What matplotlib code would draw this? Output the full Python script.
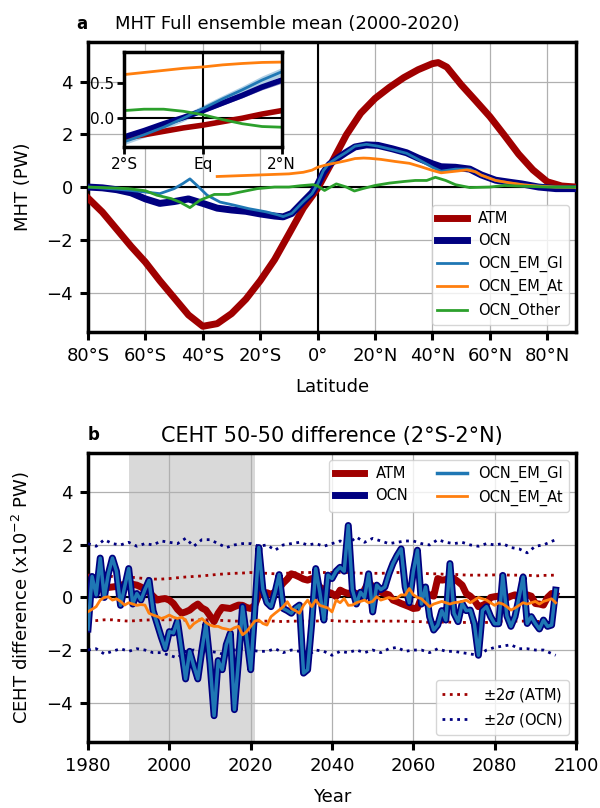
import numpy as np
import matplotlib
matplotlib.use("Agg")
import matplotlib.pyplot as plt

# ---------------- Panel a data (latitude, PW) ----------------
atm_lat = [-80, -75, -70, -65, -60, -55, -50, -45, -40, -35, -30, -25, -20, -15, -10, -5, 0, 5, 10, 15, 20, 25, 30, 35, 40, 42, 45, 50, 55, 60, 65, 70, 75, 80, 85, 90]
atm_mht = [-0.42, -0.95, -1.6, -2.25, -2.85, -3.55, -4.2, -4.85, -5.28, -5.18, -4.8, -4.25, -3.55, -2.75, -1.78, -0.8, -0.05, 0.95, 1.98, 2.8, 3.36, 3.78, 4.15, 4.45, 4.68, 4.72, 4.55, 3.88, 3.28, 2.67, 1.97, 1.25, 0.65, 0.2, 0.04, 0.0]

ocn_lat = [-80, -75, -70, -65, -60, -55, -50, -45, -40, -35, -30, -25, -20, -15, -12, -9, -5, -2, 0, 2, 4, 7, 10, 13, 17, 21, 26, 31, 35, 40, 43, 48, 53, 57, 62, 67, 71, 77, 83, 90]
ocn_mht = [0.0, -0.03, -0.1, -0.22, -0.45, -0.62, -0.55, -0.45, -0.62, -0.8, -0.87, -0.92, -1.02, -1.1, -1.13, -1.0, -0.55, -0.22, 0.1, 0.55, 0.85, 1.1, 1.32, 1.52, 1.6, 1.58, 1.45, 1.3, 1.1, 0.88, 0.77, 0.75, 0.68, 0.46, 0.26, 0.18, 0.12, 0.0, -0.06, -0.06]

gl_lat = [-80, -70, -65, -60, -55, -50, -47, -44.5, -42, -38.5, -34, -29, -24, -18, -14, -12, -9, -5, -2, 0, 2, 4, 7, 10, 13, 17, 21, 26, 31, 35, 40, 43, 48, 53, 57, 62, 67, 72, 77, 83, 90]
gl_mht = [0.0, -0.08, -0.13, -0.19, -0.25, -0.06, 0.13, 0.31, 0.06, -0.31, -0.57, -0.69, -0.82, -0.94, -1.05, -1.12, -1.0, -0.55, -0.25, 0.12, 0.62, 0.9, 1.12, 1.32, 1.55, 1.62, 1.55, 1.42, 1.28, 1.05, 0.75, 0.6, 0.68, 0.68, 0.45, 0.25, 0.15, 0.08, 0.04, 0.0, 0.0]

at_lat = [-35, -30, -25, -20, -15, -10, -5, -2, 0, 3, 7, 10, 13, 16, 18, 22, 27, 32, 36, 40, 43, 48, 52, 55, 57, 62, 67, 72, 77, 83, 90]
at_mht = [0.4, 0.42, 0.44, 0.46, 0.48, 0.5, 0.56, 0.64, 0.75, 0.84, 0.93, 1.0, 1.08, 1.1, 1.09, 1.05, 0.97, 0.9, 0.77, 0.63, 0.54, 0.6, 0.65, 0.58, 0.45, 0.25, 0.16, 0.08, 0.03, 0.0, -0.01]

oth_lat = [-80, -72, -66, -60, -56, -51, -48, -44.5, -41, -36, -31, -27, -21, -15, -10, -6, -1.6, 0, 2.4, 4.5, 6.5, 10, 12.8, 15.7, 20, 25, 30, 34, 38, 41, 44.6, 48, 53, 60, 65, 72, 80, 90]
oth_mht = [0.0, -0.03, -0.06, -0.14, -0.31, -0.44, -0.57, -0.78, -0.5, -0.28, -0.28, -0.19, -0.06, 0.0, 0.0, 0.05, 0.09, 0.04, -0.13, 0.0, 0.12, 0.0, -0.15, -0.06, 0.06, 0.15, 0.21, 0.25, 0.25, 0.37, 0.25, 0.09, -0.02, 0.0, 0.06, 0.03, 0.0, 0.0]

# inset (2S-2N)
ins_lat = [-2, -1.5, -1, -0.5, 0, 0.5, 1, 1.5, 2]
ins_atm = [-0.3, -0.25, -0.2, -0.15, -0.11, -0.06, -0.01, 0.05, 0.1]
ins_ocn = [-0.28, -0.19, -0.09, 0.0, 0.1, 0.21, 0.32, 0.44, 0.54]
ins_gl = [-0.35, -0.25, -0.14, -0.01, 0.13, 0.27, 0.4, 0.54, 0.66]
ins_at = [0.62, 0.65, 0.68, 0.71, 0.73, 0.76, 0.78, 0.795, 0.8]
ins_oth = [0.1, 0.12, 0.12, 0.09, 0.04, -0.03, -0.09, -0.13, -0.14]
ins_ocn_spread = [0.03, 0.03, 0.03, 0.03, 0.03, 0.03, 0.035, 0.04, 0.045]
ins_gl_spread = [0.04, 0.04, 0.04, 0.045, 0.05, 0.05, 0.055, 0.06, 0.06]

# ---------------- Panel b data (years, x10^-2 PW) ----------------
years = list(range(1980, 2096))
ceht_ocn = [-1.2, 0.8, 0.1, 1.5, 0.0, 0.9, 1.5, 1.0, -0.3, 0.4,
            1.1, -0.25, 0.15, -0.1, 0.3, 0.65, -0.5, -1.0, -1.5, -1.95,
            -1.3, -1.35, -0.9, -2.0, -3.1, -2.05, -2.6, -3.1, -2.0, -1.0,
            -2.5, -4.5, -2.4, -2.75, -1.8, -1.36, -4.27, -2.4, -0.35, -1.5,
            -2.75, -0.5, 1.9, 0.3, -0.2, -0.35, 0.2, 0.87, -0.42, -0.5,
            -0.6, -0.4, -0.29, -2.88, -2.75, -1.0, 1.1, 0.2, -0.86, 0.85,
            0.72, 1.0, 1.15, 1.0, 2.74, 0.3, -0.25, 0.2, 0.0, 0.9,
            -0.55, 0.47, 0.3, 0.4, 0.9, 1.3, 1.6, 1.85, 0.4, -0.2,
            1.0, 1.8, -0.25, 0.4, -0.73, -1.24, -1.05, -0.5, -0.86, 1.29,
            -0.6, -0.92, -0.23, -0.5, -0.48, -1.0, -2.2, -0.5, -0.35, -0.73,
            -1.0, -1.0, 0.84, -0.7, -1.1, -0.73, 0.0, 0.78, -0.99, -0.73,
            -0.99, -1.2, -0.86, -1.1, -1.05, 0.28]
ceht_gl = ceht_ocn
ceht_atm = [0.22, 0.34, 0.22, 0.35, 0.4, 0.38, 0.4, 0.42, 0.47, 0.5,
            0.53, 0.5, 0.47, 0.4, 0.3, 0.2, 0.05, -0.1, -0.06, -0.04,
            -0.1, -0.23, -0.45, -0.6, -0.55, -0.48, -0.35, -0.25, -0.4, -0.48,
            -0.7, -0.92, -0.6, -0.38, -0.4, -0.42, -0.35, -0.29, -0.3, -0.38,
            -0.42, -0.3, 0.1, 0.15, 0.18, 0.12, 0.21, 0.35, 0.55, 0.7,
            0.9, 0.85, 0.78, 0.7, 0.66, 0.72, 0.6, 0.4, 0.3, 0.21,
            0.15, 0.03, 0.28, 0.2, 0.15, 0.21, 0.15, 0.03, 0.3, 0.6,
            0.4, 0.34, 0.2, 0.15, 0.1, -0.1, -0.16, -0.23, -0.29, -0.35,
            -0.42, -0.4, 0.0, 0.15, 0.1, 0.05, 0.72, 0.66, 0.68, 0.78,
            0.72, 0.6, 0.47, 0.15, 0.05, -0.1, -0.35, -0.3, -0.23, 0.0,
            0.03, 0.05, 0.0, -0.02, 0.05, 0.1, -0.05, 0.05, 0.1, 0.05,
            -0.23, -0.25, -0.29, 0.0, 0.15, 0.09]
ceht_at = [-0.54, -0.45, -0.35, -0.1, 0.0, 0.03, -0.1, -0.05, -0.15, -0.29,
           -0.2, -0.25, -0.3, -0.27, -0.29, -0.6, -0.67, -0.72, -0.8, -0.75,
           -0.67, -0.75, -0.8, -0.75, -0.86, -1.17, -1.0, -0.9, -0.8, -0.95,
           -1.05, -1.1, -1.1, -1.17, -1.2, -1.24, -1.15, -1.1, -1.42, -1.3,
           -1.1, -0.9, -0.86, -0.99, -1.05, -0.73, -0.6, -0.48, -0.35, -0.16,
           -0.42, -0.5, -0.6, -0.3, -0.1, -0.35, -0.1, -0.3, -0.35, -0.4,
           -0.55, -0.1, -0.2, -0.04, -0.3, -0.29, -0.2, -0.15, -0.1, -0.2,
           -0.15, 0.03, -0.1, -0.05, 0.0, -0.05, -0.02, 0.1, 0.09, 0.34,
           0.1, 0.0, -0.05, -0.2, -0.35, -0.25, -0.2, -0.15, -0.2, -0.25,
           -0.2, -0.18, -0.15, -0.1, -0.2, -0.1, 0.0, -0.05, -0.1, -0.2,
           -0.3, -0.2, -0.25, -0.35, -0.48, -0.4, -0.3, -0.2, -0.25, -0.2,
           -0.15, -0.25, -0.15, -0.1, -0.05, -0.2]

sig_years = [1980, 1982, 1984, 1986, 1988, 1990, 1992, 1994, 1996, 1998, 2000, 2002, 2004, 2006, 2008, 2010, 2012, 2014, 2016, 2018, 2020, 2022, 2024, 2026, 2028, 2030, 2032, 2034, 2036, 2038, 2040, 2042, 2044, 2046, 2048, 2050, 2052, 2054, 2056, 2058, 2060, 2062, 2064, 2066, 2068, 2070, 2072, 2074, 2076, 2078, 2080, 2082, 2084, 2086, 2088, 2090, 2092, 2095]
atm_sig_hi = [0.85, 0.85, 0.8, 0.8, 0.78, 0.78, 0.75, 0.72, 0.7, 0.7, 0.72, 0.75, 0.78, 0.8, 0.82, 0.85, 0.88, 0.9, 0.92, 0.93, 0.95, 0.93, 0.92, 0.9, 0.92, 0.93, 0.95, 0.95, 0.95, 0.95, 0.95, 0.95, 0.95, 0.93, 0.92, 0.92, 0.92, 0.93, 0.95, 0.95, 0.95, 0.93, 0.9, 0.9, 0.88, 0.88, 0.86, 0.85, 0.85, 0.85, 0.86, 0.86, 0.85, 0.85, 0.85, 0.82, 0.84, 0.85]
atm_sig_lo = [-0.9, -0.88, -0.85, -0.85, -0.88, -0.9, -0.88, -0.86, -0.85, -0.85, -0.85, -0.85, -0.86, -0.86, -0.85, -0.85, -0.87, -0.88, -0.9, -0.9, -0.9, -0.9, -0.9, -0.9, -0.92, -0.9, -0.9, -0.9, -0.9, -0.88, -0.88, -0.9, -0.9, -0.92, -0.9, -0.9, -0.9, -0.9, -0.9, -0.9, -0.92, -0.92, -0.95, -0.95, -0.93, -0.95, -0.95, -0.95, -0.95, -0.95, -0.92, -0.9, -0.9, -0.9, -0.9, -0.92, -0.9, -0.9]
ocn_sig_hi = [2.05, 1.95, 2.2, 2.05, 2.0, 2.1, 1.95, 2.05, 2.0, 2.15, 2.1, 2.05, 2.25, 1.95, 2.2, 2.2, 2.05, 1.9, 2.0, 2.05, 2.05, 1.95, 2.0, 1.8, 2.0, 2.05, 2.1, 2.0, 2.05, 1.95, 2.05, 2.15, 2.05, 2.3, 2.1, 2.25, 2.15, 2.05, 2.1, 2.15, 2.15, 2.05, 2.0, 2.2, 2.1, 2.05, 2.1, 2.0, 1.95, 2.05, 2.0, 2.05, 1.9, 1.85, 1.7, 1.95, 2.0, 2.2]
ocn_sig_lo = [-2.0, -1.95, -2.15, -2.05, -1.95, -2.05, -1.95, -2.0, -2.1, -2.1, -2.2, -2.3, -2.05, -2.0, -2.1, -2.05, -2.1, -2.2, -2.0, -1.95, -2.0, -2.05, -2.05, -1.95, -2.1, -2.0, -2.05, -2.2, -2.0, -2.05, -2.2, -2.05, -2.1, -2.0, -2.1, -2.0, -2.1, -1.95, -1.9, -2.05, -2.0, -2.0, -2.1, -1.95, -2.05, -2.05, -2.1, -2.15, -2.2, -2.0, -1.9, -1.85, -1.8, -1.95, -1.95, -2.0, -2.0, -2.2]

shade_years = [1990, 2021]

C_ATM = '#a00000'
C_OCN = '#000080'
C_GL = '#1f77b4'
C_AT = '#ff7f0e'
C_OTH = '#2ca02c'

plt.rcParams['font.family'] = ['DejaVu Sans']
plt.rcParams['font.size'] = 13

FS = 13

fig = plt.figure(figsize=(6.0, 8.08), dpi=100)
ax1 = fig.add_axes([0.1467, 0.589, 0.8133, 0.359])
ax2 = fig.add_axes([0.1467, 0.0817, 0.8133, 0.3577])

def style(ax):
    for s in ax.spines.values():
        s.set_linewidth(2.5)
    ax.tick_params(direction='out', length=6, width=2.2, labelsize=FS, pad=5)
    ax.grid(True, color='#b0b0b0', linewidth=0.9)

# ---- Panel a ----
style(ax1)
ax1.axhline(0, color='k', lw=1.5, zorder=2)
ax1.axvline(0, color='k', lw=1.5, zorder=2)
ax1.plot(atm_lat, atm_mht, color=C_ATM, lw=5, label='ATM', zorder=3)
ax1.plot(ocn_lat, ocn_mht, color=C_OCN, lw=5, label='OCN', zorder=3)
ax1.plot(gl_lat, gl_mht, color=C_GL, lw=2, label='OCN_EM_Gl', zorder=4)
ax1.plot(at_lat, at_mht, color=C_AT, lw=2, label='OCN_EM_At', zorder=4)
ax1.plot(oth_lat, oth_mht, color=C_OTH, lw=2, label='OCN_Other', zorder=4)
ax1.set_xlim(-80, 90)
ax1.set_ylim(-5.5, 5.5)
xt = [-80, -60, -40, -20, 0, 20, 40, 60, 80]
xtl = ['80°S', '60°S', '40°S', '20°S', '0°', '20°N', '40°N', '60°N', '80°N']
ax1.set_xticks(xt)
ax1.set_xticklabels(xtl)
ax1.set_yticks([-4, -2, 0, 2, 4])
ax1.set_xlabel('Latitude', fontsize=FS, labelpad=9)
ax1.set_ylabel('MHT (PW)', fontsize=FS, labelpad=10)
ax1.legend(loc='lower right', fontsize=10.5, framealpha=0.8)
ax1.text(-0.025, 1.03, 'a', transform=ax1.transAxes, fontsize=12, fontweight='bold', ha='left', va='bottom')
ax1.text(0.055, 1.03, 'MHT Full ensemble mean (2000-2020)', transform=ax1.transAxes, fontsize=13, ha='left', va='bottom')

# inset
axi = fig.add_axes([124.3 / 600, 1 - 147.3 / 808, 157.4 / 600, 95.6 / 808])
for s in axi.spines.values():
    s.set_linewidth(2.5)
axi.tick_params(direction='out', length=5, width=2, labelsize=11, pad=2)
axi.axhline(0, color='k', lw=1.5)
axi.axvline(0, color='k', lw=1.5)
lo = np.array(ins_ocn) - np.array(ins_ocn_spread)
hi = np.array(ins_ocn) + np.array(ins_ocn_spread)
axi.fill_between(ins_lat, lo, hi, color=C_OCN, alpha=0.5, lw=0)
lo = np.array(ins_gl) - np.array(ins_gl_spread)
hi = np.array(ins_gl) + np.array(ins_gl_spread)
axi.fill_between(ins_lat, lo, hi, color=C_GL, alpha=0.35, lw=0)
axi.plot(ins_lat, ins_atm, color=C_ATM, lw=4)
axi.plot(ins_lat, ins_ocn, color=C_OCN, lw=4)
axi.plot(ins_lat, ins_gl, color=C_GL, lw=2)
axi.plot(ins_lat, ins_at, color=C_AT, lw=2)
axi.plot(ins_lat, ins_oth, color=C_OTH, lw=2)
axi.set_xlim(-2, 2)
axi.set_ylim(-0.43, 0.95)
axi.set_xticks([-2, 0, 2])
axi.set_xticklabels(['2°S', 'Eq', '2°N'])
axi.set_yticks([0.0, 0.5])
axi.set_yticklabels(['0.0', '0.5'])

# ---- Panel b ----
style(ax2)
ax2.axvspan(shade_years[0], shade_years[1], color='#d9d9d9', lw=0, zorder=0.5)
ax2.axhline(0, color='k', lw=1.5, zorder=2)
ax2.plot(sig_years, atm_sig_hi, color=C_ATM, lw=2, ls=':', zorder=3)
l_sa, = ax2.plot(sig_years, atm_sig_lo, color=C_ATM, lw=2, ls=':', zorder=3)
ax2.plot(sig_years, ocn_sig_hi, color=C_OCN, lw=2, ls=':', zorder=3)
l_so, = ax2.plot(sig_years, ocn_sig_lo, color=C_OCN, lw=2, ls=':', zorder=3)
l_atm, = ax2.plot(years, ceht_atm, color=C_ATM, lw=5, zorder=4)
l_ocn, = ax2.plot(years, ceht_ocn, color=C_OCN, lw=5, zorder=4)
l_gl, = ax2.plot(years, ceht_gl, color=C_GL, lw=2.5, zorder=5)
l_at, = ax2.plot(years, ceht_at, color=C_AT, lw=2, zorder=5)
ax2.set_xlim(1980, 2100)
ax2.set_ylim(-5.5, 5.5)
ax2.set_xticks([1980, 2000, 2020, 2040, 2060, 2080, 2100])
ax2.set_yticks([-4, -2, 0, 2, 4])
ax2.set_xlabel('Year', fontsize=FS, labelpad=9)
ax2.set_ylabel('CEHT difference (x10$^{-2}$ PW)', fontsize=FS, labelpad=10)
leg1 = ax2.legend([l_atm, l_ocn, l_gl, l_at], ['ATM', 'OCN', 'OCN_EM_Gl', 'OCN_EM_At'],
                  loc='upper right', ncol=2, fontsize=10.5, framealpha=0.8)
ax2.add_artist(leg1)
ax2.legend([l_sa, l_so], [r'$\pm2\sigma$ (ATM)', r'$\pm2\sigma$ (OCN)'], loc='lower right', fontsize=10.5, framealpha=0.8)
ax2.text(0.0, 1.03, 'b', transform=ax2.transAxes, fontsize=12, fontweight='bold', ha='left', va='bottom')
ax2.set_title('CEHT 50-50 difference (2°S-2°N)', fontsize=15, pad=8)

fig.savefig('out.png', dpi=100)
